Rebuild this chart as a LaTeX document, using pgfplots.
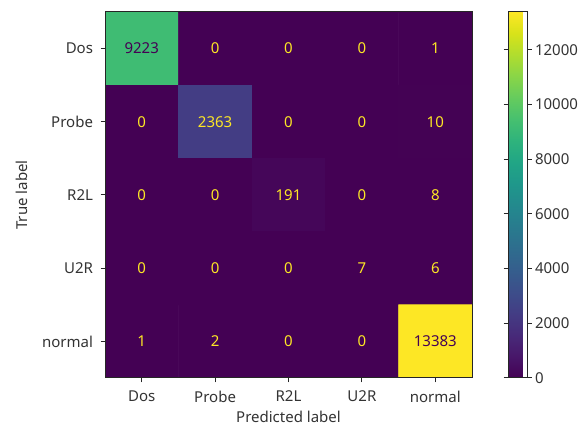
\documentclass[border=0pt]{standalone}
\usepackage{pgfplots}
\pgfplotsset{compat=1.18}
\usepackage{pgfplotstable}
\usepackage{fontspec}
\setmainfont{Noto Sans}
\definecolor{vyellow}{HTML}{FDE725}
\definecolor{vpurple}{HTML}{440154}
\definecolor{txt}{HTML}{333333}
\newcommand{\lblfont}{\fontsize{15}{18}\selectfont}

% y: 4 = Dos (top) ... 0 = normal (bottom)
\pgfplotstableread{
x y c
0 4 9223
1 4 0
2 4 0
3 4 0
4 4 1
0 3 0
1 3 2363
2 3 0
3 3 0
4 3 10
0 2 0
1 2 0
2 2 191
3 2 0
4 2 8
0 1 0
1 1 0
2 1 0
3 1 7
4 1 6
0 0 1
1 0 2
2 0 0
3 0 0
4 0 13383
}\cm

\pgfplotstableread{
x y c
1 4 0
2 4 0
3 4 0
4 4 1
0 3 0
1 3 2363
2 3 0
3 3 0
4 3 10
0 2 0
1 2 0
2 2 191
3 2 0
4 2 8
0 1 0
1 1 0
2 1 0
3 1 7
4 1 6
0 0 1
1 0 2
2 0 0
3 0 0
}\lighttext

\pgfplotstableread{
x y c
0 4 9223
4 0 13383
}\darktext

\begin{document}
\begin{tikzpicture}
\path[use as bounding box] (0,0) rectangle (578pt,427pt);
\begin{axis}[
  at={(105pt,49pt)}, anchor=south west,
  scale only axis, width=367pt, height=366pt,
  xmin=-0.5, xmax=4.5, ymin=-0.5, ymax=4.5,
  xtick={0,1,2,3,4}, ytick={0,1,2,3,4},
  xticklabels={Dos,Probe,R2L,U2R,normal},
  yticklabels={normal,U2R,R2L,Probe,Dos},
  xtick pos=left, ytick pos=left,
  tick align=outside, major tick length=4.5pt,
  every tick/.style={black!85, line width=1pt},
  axis line style={black!85, line width=1pt},
  tick label style={text=txt, font=\lblfont},
  xticklabel style={yshift=-5pt},
  yticklabel style={xshift=-4pt},
  label style={text=txt, font=\lblfont},
  xlabel={Predicted label}, ylabel={True label},
  xlabel style={yshift=-1.5pt},
  ylabel style={yshift=8pt},
  axis on top,
  colormap/viridis,
  point meta min=0, point meta max=13383,
  colorbar,
  colorbar style={
    at={(parent axis.south east)}, anchor=south west, xshift=27.5pt,
    scale only axis, width=19pt, height=366pt,
    ymin=0, ymax=13383,
    ytick={0,2000,4000,6000,8000,10000,12000},
    scaled y ticks=false,
    yticklabel pos=right,
    tick align=outside, major tick length=4.5pt,
    every tick/.style={black!85, line width=1pt},
    axis line style={black!85, line width=1pt},
    tick label style={text=txt, font=\lblfont},
    yticklabel style={xshift=0pt},
    /pgf/number format/1000 sep={},
    /pgf/number format/assume math mode=true,
  },
]
\addplot[matrix plot*, mesh/cols=5, point meta=explicit,
  shader=faceted, faceted color=mapped color, line width=0.6pt]
  table[x=x, y=y, meta=c] {\cm};
\addplot[only marks, mark=none, point meta=explicit symbolic,
  nodes near coords, nodes near coords align=center,
  every node near coord/.style={text=vyellow, anchor=center, font=\lblfont}]
  table[x=x, y=y, meta=c] {\lighttext};
\addplot[only marks, mark=none, point meta=explicit symbolic,
  nodes near coords, nodes near coords align=center,
  every node near coord/.style={text=vpurple, anchor=center, font=\lblfont}]
  table[x=x, y=y, meta=c] {\darktext};
\end{axis}
\end{tikzpicture}
\end{document}
